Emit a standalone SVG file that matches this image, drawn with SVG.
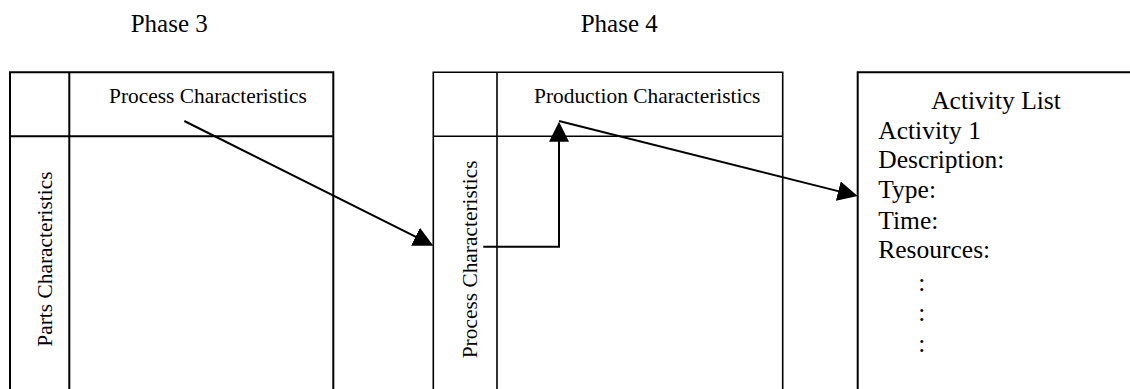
<svg xmlns="http://www.w3.org/2000/svg" width="1130" height="389" viewBox="0 0 1130 389">
<style>
.ln{stroke:#000;stroke-width:2;fill:none}
.ln2{stroke:#000;stroke-width:1.6;fill:none}
.t{font-family:"Liberation Serif","Times New Roman",serif;fill:#000}
.hd{font-size:21.4px}
.ph{font-size:25px}
.al{font-size:25.5px}
.ar{stroke:#000;stroke-width:2;fill:none;marker-end:url(#ah)}
</style>
<defs>
<marker id="ah" viewBox="0 0 20 20" refX="10" refY="10" markerWidth="20" markerHeight="20" markerUnits="userSpaceOnUse" orient="auto">
<path d="M0,0 L20,10 L0,20 z" fill="#000"/>
</marker>
</defs>
<g id="labels">
<text class="t ph" x="130.7" y="32">Phase 3</text>
<text class="t ph" x="580.7" y="32">Phase 4</text>
</g>
<g id="phase3-matrix">
<path class="ln" d="M10,389 V72.3 H333.3 V389 M69.3,72.3 V389 M10,136.3 H333.3"/>
<text class="t hd" x="109" y="102.7">Process Characteristics</text>
<text class="t hd" transform="translate(52,346.7) rotate(-90)">Parts Characteristics</text>
</g>
<g id="phase4-matrix">
<path class="ln2" d="M433.3,389 V72.3 H782.7 V389 M497,72.3 V389 M433.3,136.3 H782.7"/>
<text class="t hd" x="534" y="102.7">Production Characteristics</text>
<text class="t hd" transform="translate(477,358.3) rotate(-90)">Process Characteristics</text>
</g>
<g id="activity-list">
<path class="ln" d="M857.7,389 V72.3 H1130"/>
<text class="t al" x="996" y="109.3" text-anchor="middle">Activity List</text>
<text class="t al" x="878.3" y="138.5">Activity 1</text>
<text class="t al" x="878.3" y="168.2">Description:</text>
<text class="t al" x="878.3" y="197.5">Type:</text>
<text class="t al" x="878.3" y="228.5">Time:</text>
<text class="t al" x="878.3" y="257.5">Resources:</text>
<text class="t al" x="918.2" y="290.5">:</text>
<text class="t al" x="918.2" y="320.5">:</text>
<text class="t al" x="918.2" y="352">:</text>
</g>
<g id="connectors">
<path class="ar" d="M184.3,121 L424.4,241.2"/>
<path class="ar" d="M483.3,246.7 H559 V131.7"/>
<path class="ar" d="M559,121 L848,193.6"/>
</g>
</svg>
